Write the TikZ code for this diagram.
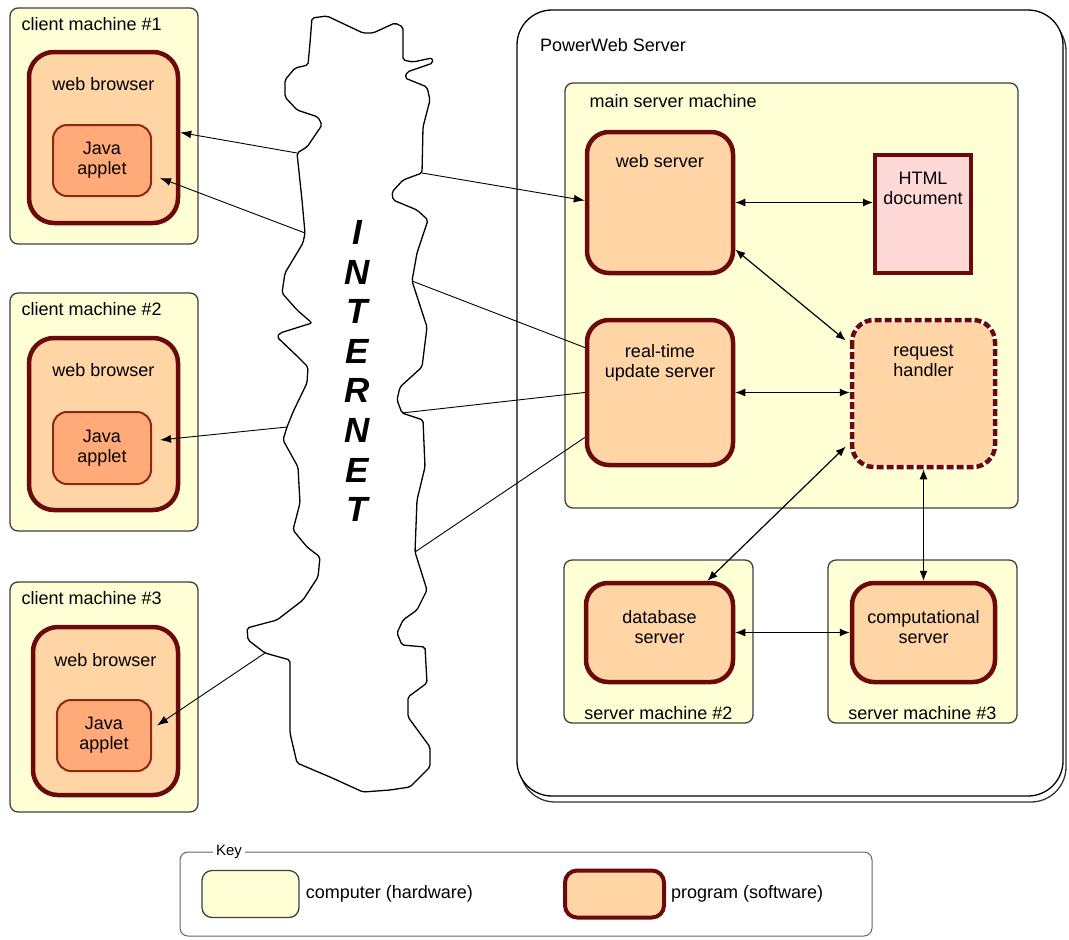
\documentclass[tikz,border=0pt]{standalone}
\usepackage{fontspec}
\setmainfont{Liberation Sans}
\usetikzlibrary{arrows.meta,calc}
\definecolor{compfill}{HTML}{FFFFD5}
\definecolor{progfill}{HTML}{FFD5A5}
\definecolor{progedge}{HTML}{6B0A0A}
\definecolor{appfill}{HTML}{FFAA78}
\definecolor{appedge}{HTML}{8B2A10}
\definecolor{htmlfill}{HTML}{FFD8D8}
\begin{document}
\begin{tikzpicture}[x=1pt,y=-1pt,
  computer/.style={draw=black!75, line width=1.3pt, fill=compfill, rounded corners=8pt, inner sep=0pt},
  program/.style={draw=progedge, line width=4.5pt, fill=progfill, rounded corners=22pt, inner sep=0pt},
  applet/.style={draw=appedge, line width=2pt, fill=appfill, rounded corners=14pt, inner sep=0pt},
  txt/.style={inner sep=0pt, font=\fontsize{18}{20}\selectfont, align=center},
  thinline/.style={line width=0.9pt, black},
  tarr/.style={thinline, -{Latex[length=11pt,width=8pt]}},
  conn/.style={line width=1.2pt, black},
  darr/.style={conn, {Latex[length=10pt,width=8pt]}-{Latex[length=10pt,width=8pt]}},
  cloudline/.style={draw=black, line width=1.3pt, fill=white, rounded corners=2pt}
]
\useasboundingbox (0,0) rectangle (1069,940);

% ---------------- client machines ----------------
\node[computer, minimum width=188pt, minimum height=236pt] (cm1) at (104,126) {};
\node[program, rounded corners=25pt, minimum width=149pt, minimum height=171pt] (b1) at (103.5,137.5) {};
\node[applet, minimum width=98pt, minimum height=71pt] (a1) at (102,160.5) {};
\node[txt, anchor=base west] (cm1l) at ([xshift=12pt,yshift=-23pt]cm1.north west) {client machine \#1};
\node[txt, anchor=north] (b1l) at ([yshift=-28pt]b1.north) {web browser};
\node[txt] (a1l) at (a1) {Java\\applet};

\node[computer, minimum width=188pt, minimum height=238pt] (cm2) at (104,412) {};
\node[program, rounded corners=25pt, minimum width=149pt, minimum height=172pt] (b2) at (103.5,424) {};
\node[applet, minimum width=98pt, minimum height=72pt] (a2) at (102,448) {};
\node[txt, anchor=base west] (cm2l) at ([xshift=12pt,yshift=-23pt]cm2.north west) {client machine \#2};
\node[txt, anchor=north] (b2l) at ([yshift=-28pt]b2.north) {web browser};
\node[txt] (a2l) at (a2) {Java\\applet};

\node[computer, minimum width=188pt, minimum height=230pt] (cm3) at (104,697) {};
\node[program, rounded corners=25pt, minimum width=145pt, minimum height=168pt] (b3) at (105.5,711) {};
\node[applet, minimum width=94pt, minimum height=71pt] (a3) at (104,735.5) {};
\node[txt, anchor=base west] (cm3l) at ([xshift=12pt,yshift=-23pt]cm3.north west) {client machine \#3};
\node[txt, anchor=north] (b3l) at ([yshift=-28pt]b3.north) {web browser};
\node[txt] (a3l) at (a3) {Java\\applet};

% ---------------- internet cloud ----------------
\path[cloudline] (312,18) -- (327,16) -- (363,33) -- (373,33) -- (395,23) -- (403,27) -- (403,60) -- (413,62)
 -- (432,58) -- (433,63) -- (407,72) -- (405,78) -- (427,87) -- (430,100) -- (423,127)
 -- (422,173) coordinate (s1) -- (403,180) -- (392,192) -- (393,200) -- (417,210) -- (428,220) -- (417,253)
 -- (412,281) coordinate (s2) -- (427,327) -- (422,367) -- (400,387) -- (397,400)
 -- (402,413) coordinate (s3) -- (423,420) -- (425,467) -- (417,500)
 -- (415,552) coordinate (s4) -- (427,590) -- (417,610) -- (403,620) -- (397,633) -- (402,645)
 -- (425,647) -- (427,683) -- (408,697) -- (408,717) -- (430,747) -- (430,767) -- (410,787)
 -- (390,790) -- (363,792) -- (330,777) -- (297,763) -- (290,733) -- (290,700) -- (290,660)
 -- (265,653) coordinate (c4) -- (248,640) -- (247,628) -- (277,620) -- (303,600) -- (318,577) -- (320,557)
 -- (307,547) -- (293,530) -- (300,503) -- (298,467) -- (283,440)
 -- (287,427) coordinate (c3) -- (293,412) -- (307,383) -- (308,367) -- (298,357) -- (277,337)
 -- (280,333) -- (312,323) -- (297,310) -- (282,293) -- (285,273) -- (303,243)
 -- (305,233) coordinate (c2) -- (302,200)
 -- (297,153) coordinate (c1) -- (307,147) -- (322,125) -- (318,117) -- (297,110) -- (285,97)
 -- (285,80) -- (295,68) -- (308,65) -- (310,43) -- cycle;
\node[inner sep=0pt, align=center, font=\fontsize{35}{39.6}\selectfont\bfseries\itshape] (inet) at (357,371)
  {I\\N\\T\\E\\R\\N\\E\\T};

% ---------------- PowerWeb server ----------------
\draw[line width=1.3pt, black!80, rounded corners=35pt] (520,16) rectangle (1066,802);
\node[draw=black, line width=1.3pt, fill=white, rounded corners=35pt, minimum width=546pt, minimum height=786pt, inner sep=0pt] (pw) at (790,403) {};
\node[txt, anchor=base west] (pwl) at (540,51) {PowerWeb Server};

\node[computer, minimum width=453pt, minimum height=425pt] (msm) at (791.5,295.5) {};
\node[txt, anchor=base west] (msml) at ([xshift=25pt,yshift=-25pt]msm.north west) {main server machine};

\node[program, minimum width=146pt, minimum height=141pt] (ws) at (660,202.5) {};
\node[txt, anchor=north] (wsl) at ([yshift=-25pt]ws.north) {web server};

\node[draw=progedge, line width=4pt, fill=htmlfill, minimum width=96pt, minimum height=118pt, inner sep=0pt] (html) at (923,214) {};
\node[txt, anchor=north] (htmll) at ([yshift=-19pt]html.north) {HTML\\document};

\node[program, minimum width=146pt, minimum height=145pt] (rt) at (660,392.5) {};
\node[txt, anchor=north] (rtl) at ([yshift=-27pt]rt.north) {real-time\\update server};

\node[program, draw=none, outer sep=2.25pt, minimum width=143pt, minimum height=147pt] (rh) at (923.5,393.5) {};
\draw[white, line width=4.5pt, rounded corners=22pt] (852,320) rectangle (995,467);
\draw[progedge, line width=4.5pt, dash pattern=on 7pt off 3pt, rounded corners=22pt] (852,320) rectangle (995,467);
\node[txt, anchor=north] (rhl) at ([yshift=-27pt]rh.north) {request\\handler};

\node[computer, minimum width=189pt, minimum height=163pt] (sm2) at (658.5,641.5) {};
\node[program, minimum width=147pt, minimum height=99pt] (db) at (659.5,632.5) {};
\node[txt, anchor=north] (dbl) at ([yshift=-29pt]db.north) {database\\server};
\node[txt, anchor=base] (sm2l) at ([yshift=4pt]sm2.south) {server machine \#2};

\node[computer, minimum width=189pt, minimum height=163pt] (sm3) at (922.5,641.5) {};
\node[program, minimum width=143pt, minimum height=99pt] (comp) at (923.5,632.5) {};
\node[txt, anchor=north] (compl) at ([yshift=-29pt]comp.north) {computational\\server};
\node[txt, anchor=base] (sm3l) at ([yshift=4pt]sm3.south) {server machine \#3};

% ---------------- connectors ----------------
\draw[tarr] (c1) -- ([yshift=5pt]b1.east);
\draw[tarr] (c2) -- ([xshift=8pt,yshift=-17.5pt]a1.east);
\draw[tarr] (c3) -- ([xshift=8pt,yshift=8pt]a2.east);
\draw[tarr] (c4) -- ([xshift=5pt,yshift=10pt]a3.east);

\draw[tarr] (s1) -- ([yshift=2pt]ws.west);
\draw[thinline] (s2) -- ([yshift=45pt]rt.west);
\draw[thinline] (s3) -- (rt.west);
\draw[thinline] (s4) -- ([yshift=-45pt]rt.west);

\draw[darr] (ws.east) -- (ws.east -| html.west);
\draw[darr] ([yshift=-47pt]ws.east) -- ([xshift=-4pt,yshift=53pt]rh.west);
\draw[darr] (rt.east) -- (rt.east -| rh.west);
\draw[darr] ([xshift=-4pt,yshift=-53pt]rh.west) -- ([xshift=48pt]db.north);
\draw[darr] (rh.south) -- (rh.south |- comp.north);
\draw[darr] (db.east) -- (db.east -| comp.west);

% ---------------- key ----------------
\node[draw=black!60, line width=1pt, rounded corners=8pt, minimum width=692pt, minimum height=84pt, inner sep=0pt] (key) at (526,894) {};
\node[fill=white, inner sep=3pt, font=\fontsize{15}{16}\selectfont] (keyl) at (229,852) {Key};
\node[computer, rounded corners=10pt, minimum width=97pt, minimum height=47pt] (kc) at (250.5,894) {};
\node[txt, anchor=west] (kcl) at ([xshift=6pt]kc.east) {computer (hardware)};
\node[program, line width=4pt, rounded corners=12pt, minimum width=99pt, minimum height=47pt] (kp) at (614.5,894) {};
\node[txt, anchor=west] (kpl) at ([xshift=5pt]kp.east) {program (software)};
\end{tikzpicture}
\end{document}
